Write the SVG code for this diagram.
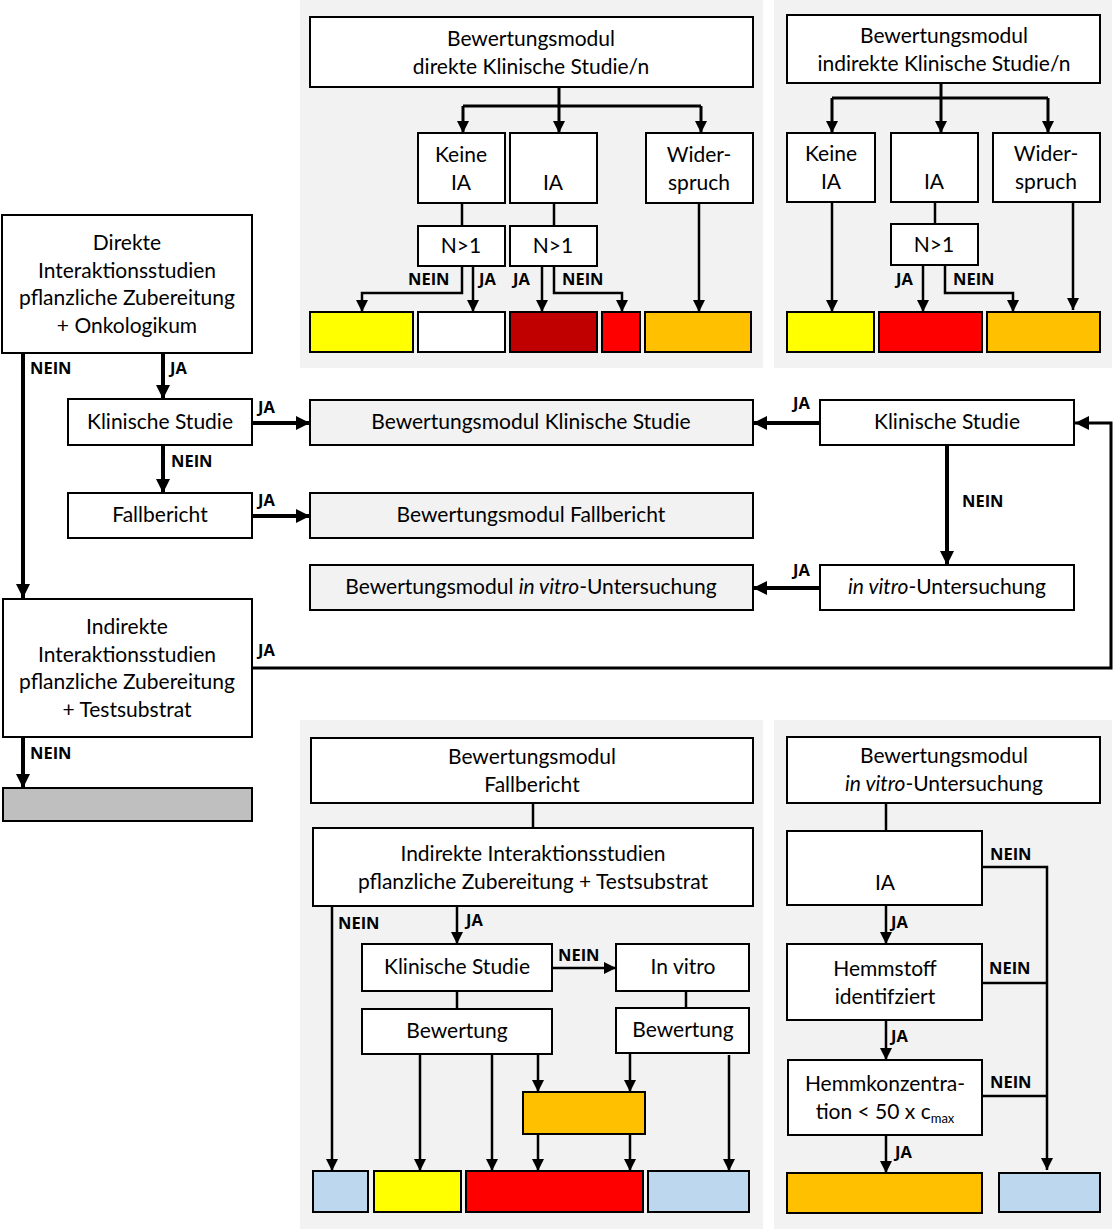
<svg xmlns="http://www.w3.org/2000/svg" width="1115" height="1229" viewBox="0 0 1115 1229">
<style>
.panel{fill:#f2f2f2}
.box{fill:#fff;stroke:#000;stroke-width:2}
.gbox{fill:#f2f2f2;stroke:#000;stroke-width:2}
.t{font-family:Lato,"Liberation Sans",sans-serif;font-size:21px;fill:#000;text-anchor:middle}
.l{font-family:"Open Sans","Liberation Sans",sans-serif;font-size:16.5px;font-weight:bold;fill:#000}
.c{fill:none;stroke:#000;stroke-width:2.5}
.ck{fill:none;stroke:#000;stroke-width:4}
.cm{fill:none;stroke:#000;stroke-width:3}
</style>
<defs>
<marker id="a" markerUnits="userSpaceOnUse" markerWidth="14" markerHeight="14" refX="12" refY="6" orient="auto"><path d="M0,0 L12,6 L0,12 z" fill="#000"/></marker>
<marker id="ab" markerUnits="userSpaceOnUse" markerWidth="16" markerHeight="16" refX="14" refY="7" orient="auto"><path d="M0,0 L14,7 L0,14 z" fill="#000"/></marker>
</defs>

<!-- panels -->
<rect class="panel" x="300" y="0" width="463" height="368"/>
<rect class="panel" x="774" y="0" width="338" height="368"/>
<rect class="panel" x="300" y="720" width="463" height="509"/>
<rect class="panel" x="774" y="720" width="338" height="509"/>

<!-- connectors -->
<g id="connectors">
 <!-- top middle panel -->
 <path class="cm" d="M559,87 V106 M463,106 H701"/>
 <path class="cm" d="M463,106 V133" marker-end="url(#a)"/>
 <path class="cm" d="M559,106 V133" marker-end="url(#a)"/>
 <path class="cm" d="M701,106 V133" marker-end="url(#a)"/>
 <path class="c" d="M462,203 V226"/>
 <path class="c" d="M554,203 V226"/>
 <path class="c" d="M462,266 V293 H362 V312" marker-end="url(#a)"/>
 <path class="c" d="M473,266 V312" marker-end="url(#a)"/>
 <path class="c" d="M542,266 V312" marker-end="url(#a)"/>
 <path class="c" d="M554,266 V293 H622 V312" marker-end="url(#a)"/>
 <path class="c" d="M699,203 V312" marker-end="url(#a)"/>
 <!-- top right panel -->
 <path class="cm" d="M941,83 V98 M832,98 H1048"/>
 <path class="cm" d="M832,98 V133" marker-end="url(#a)"/>
 <path class="cm" d="M941,98 V133" marker-end="url(#a)"/>
 <path class="cm" d="M1048,98 V133" marker-end="url(#a)"/>
 <path class="c" d="M935,202 V224"/>
 <path class="c" d="M832,202 V312" marker-end="url(#a)"/>
 <path class="c" d="M923,265 V312" marker-end="url(#a)"/>
 <path class="c" d="M945,265 V293 H1013 V312" marker-end="url(#a)"/>
 <path class="c" d="M1073,202 V310" marker-end="url(#a)"/>
 <!-- left flow -->
 <path class="ck" d="M23,353 V598" marker-end="url(#ab)"/>
 <path class="ck" d="M163,353 V399" marker-end="url(#ab)"/>
 <path class="ck" d="M163,445 V493" marker-end="url(#ab)"/>
 <path class="ck" d="M252,423 H310" marker-end="url(#ab)"/>
 <path class="ck" d="M252,516 H310" marker-end="url(#ab)"/>
 <path class="ck" d="M23,737 V788" marker-end="url(#ab)"/>
 <path class="cm" d="M252,668 H1111 V423 H1075" marker-end="url(#ab)"/>
 <!-- right flow -->
 <path class="ck" d="M820,423 H753" marker-end="url(#ab)"/>
 <path class="ck" d="M820,588 H753" marker-end="url(#ab)"/>
 <path class="ck" d="M947,445 V565" marker-end="url(#ab)"/>
 <!-- bottom middle panel -->
 <path class="c" d="M533,803 V828"/>
 <path class="c" d="M332,906 V1171" marker-end="url(#a)"/>
 <path class="c" d="M457,906 V944" marker-end="url(#a)"/>
 <path class="c" d="M552,968 H616" marker-end="url(#a)"/>
 <path class="c" d="M457,991 V1009"/>
 <path class="c" d="M686,991 V1008"/>
 <path class="c" d="M420,1054 V1171" marker-end="url(#a)"/>
 <path class="c" d="M492,1054 V1171" marker-end="url(#a)"/>
 <path class="c" d="M538,1054 V1092" marker-end="url(#a)"/>
 <path class="c" d="M630,1053 V1092" marker-end="url(#a)"/>
 <path class="c" d="M729,1055 V1171" marker-end="url(#a)"/>
 <path class="c" d="M538,1134 V1171" marker-end="url(#a)"/>
 <path class="c" d="M630,1134 V1171" marker-end="url(#a)"/>
 <!-- bottom right panel -->
 <path class="c" d="M886,803 V831"/>
 <path class="c" d="M886,905 V944" marker-end="url(#a)"/>
 <path class="c" d="M886,1020 V1060" marker-end="url(#a)"/>
 <path class="c" d="M886,1135 V1173" marker-end="url(#a)"/>
 <path class="c" d="M982,867 H1047 V1170" marker-end="url(#a)"/>
 <path class="c" d="M982,983 H1047"/>
 <path class="c" d="M982,1096 H1047"/>
</g>

<!-- connector labels -->
<g id="labels">
 <text class="l" x="408" y="285">NEIN</text>
 <text class="l" x="479" y="285">JA</text>
 <text class="l" x="513" y="285">JA</text>
 <text class="l" x="562" y="285">NEIN</text>
 <text class="l" x="896" y="285">JA</text>
 <text class="l" x="953" y="285">NEIN</text>
 <text class="l" x="30" y="374">NEIN</text>
 <text class="l" x="170" y="374">JA</text>
 <text class="l" x="171" y="467">NEIN</text>
 <text class="l" x="258" y="413">JA</text>
 <text class="l" x="258" y="506">JA</text>
 <text class="l" x="258" y="656">JA</text>
 <text class="l" x="30" y="759">NEIN</text>
 <text class="l" x="793" y="409">JA</text>
 <text class="l" x="793" y="576">JA</text>
 <text class="l" x="962" y="507">NEIN</text>
 <text class="l" x="338" y="929">NEIN</text>
 <text class="l" x="466" y="926">JA</text>
 <text class="l" x="558" y="961">NEIN</text>
 <text class="l" x="891" y="928">JA</text>
 <text class="l" x="891" y="1042">JA</text>
 <text class="l" x="895" y="1158">JA</text>
 <text class="l" x="990" y="860">NEIN</text>
 <text class="l" x="989" y="974">NEIN</text>
 <text class="l" x="990" y="1088">NEIN</text>
</g>

<!-- top middle panel nodes -->
<g id="n-direkt-modul"><rect class="box" x="310" y="17" width="443" height="70"/><text class="t" x="531" y="46">Bewertungsmodul</text><text class="t" x="531" y="74">direkte Klinische Studie/n</text></g>
<g id="n-tm-keine"><rect class="box" x="418" y="133" width="87" height="70"/><text class="t" x="461" y="162">Keine</text><text class="t" x="461" y="190">IA</text></g>
<g id="n-tm-ia"><rect class="box" x="510" y="133" width="87" height="70"/><text class="t" x="553" y="190">IA</text></g>
<g id="n-tm-wider"><rect class="box" x="646" y="133" width="107" height="70"/><text class="t" x="699" y="162">Wider-</text><text class="t" x="699" y="190">spruch</text></g>
<g id="n-tm-n1a"><rect class="box" x="418" y="226" width="87" height="40"/><text class="t" x="461" y="253">N&gt;1</text></g>
<g id="n-tm-n1b"><rect class="box" x="510" y="226" width="87" height="40"/><text class="t" x="553" y="253">N&gt;1</text></g>
<g id="n-tm-r1"><rect class="box" x="310" y="312" width="103" height="40" style="fill:#ffff00"/></g>
<g id="n-tm-r2"><rect class="box" x="418" y="312" width="87" height="40"/></g>
<g id="n-tm-r3"><rect class="box" x="510" y="312" width="87" height="40" style="fill:#c00000"/></g>
<g id="n-tm-r4"><rect class="box" x="602" y="312" width="38" height="40" style="fill:#ff0000"/></g>
<g id="n-tm-r5"><rect class="box" x="645" y="312" width="106" height="40" style="fill:#ffc000"/></g>

<!-- top right panel nodes -->
<g id="n-indirekt-modul"><rect class="box" x="787" y="15" width="313" height="68"/><text class="t" x="944" y="43">Bewertungsmodul</text><text class="t" x="944" y="71">indirekte Klinische Studie/n</text></g>
<g id="n-tr-keine"><rect class="box" x="787" y="133" width="88" height="69"/><text class="t" x="831" y="161">Keine</text><text class="t" x="831" y="189">IA</text></g>
<g id="n-tr-ia"><rect class="box" x="891" y="133" width="87" height="69"/><text class="t" x="934" y="189">IA</text></g>
<g id="n-tr-wider"><rect class="box" x="993" y="133" width="107" height="69"/><text class="t" x="1046" y="161">Wider-</text><text class="t" x="1046" y="189">spruch</text></g>
<g id="n-tr-n1"><rect class="box" x="891" y="224" width="87" height="41"/><text class="t" x="934" y="252">N&gt;1</text></g>
<g id="n-tr-r1"><rect class="box" x="787" y="312" width="87" height="40" style="fill:#ffff00"/></g>
<g id="n-tr-r2"><rect class="box" x="879" y="312" width="103" height="40" style="fill:#ff0000"/></g>
<g id="n-tr-r3"><rect class="box" x="987" y="312" width="113" height="40" style="fill:#ffc000"/></g>

<!-- left flow nodes -->
<g id="n-direkte"><rect class="box" x="2" y="215" width="250" height="138"/><text class="t" x="127" y="250">Direkte</text><text class="t" x="127" y="278">Interaktionsstudien</text><text class="t" x="127" y="305">pflanzliche Zubereitung</text><text class="t" x="127" y="333">+ Onkologikum</text></g>
<g id="n-klin-l"><rect class="box" x="68" y="399" width="184" height="46"/><text class="t" x="160" y="429">Klinische Studie</text></g>
<g id="n-fall-l"><rect class="box" x="68" y="493" width="184" height="45"/><text class="t" x="160" y="522">Fallbericht</text></g>
<g id="n-indirekte"><rect class="box" x="3" y="599" width="249" height="138"/><text class="t" x="127" y="634">Indirekte</text><text class="t" x="127" y="662">Interaktionsstudien</text><text class="t" x="127" y="689">pflanzliche Zubereitung</text><text class="t" x="127" y="717">+ Testsubstrat</text></g>
<g id="n-grey"><rect class="box" x="3" y="788" width="249" height="33" style="fill:#bfbfbf"/></g>

<!-- middle modules -->
<g id="n-bm-klin"><rect class="gbox" x="310" y="400" width="443" height="45"/><text class="t" x="531" y="429">Bewertungsmodul Klinische Studie</text></g>
<g id="n-bm-fall"><rect class="gbox" x="310" y="493" width="443" height="45"/><text class="t" x="531" y="522">Bewertungsmodul Fallbericht</text></g>
<g id="n-bm-vitro"><rect class="gbox" x="310" y="565" width="443" height="45"/><text class="t" x="531" y="594">Bewertungsmodul <tspan font-style="italic">in vitro</tspan>-Untersuchung</text></g>
<g id="n-klin-r"><rect class="box" x="820" y="400" width="254" height="45"/><text class="t" x="947" y="429">Klinische Studie</text></g>
<g id="n-vitro-r"><rect class="box" x="820" y="565" width="254" height="45"/><text class="t" x="947" y="594"><tspan font-style="italic">in vitro</tspan>-Untersuchung</text></g>

<!-- bottom middle panel nodes -->
<g id="n-bm-fall-head"><rect class="box" x="311" y="738" width="442" height="65"/><text class="t" x="532" y="764">Bewertungsmodul</text><text class="t" x="532" y="792">Fallbericht</text></g>
<g id="n-bm-indirekt"><rect class="box" x="313" y="828" width="440" height="78"/><text class="t" x="533" y="861">Indirekte Interaktionsstudien</text><text class="t" x="533" y="889">pflanzliche Zubereitung + Testsubstrat</text></g>
<g id="n-bm-klin2"><rect class="box" x="362" y="944" width="190" height="47"/><text class="t" x="457" y="974">Klinische Studie</text></g>
<g id="n-bm-invitro"><rect class="box" x="616" y="944" width="133" height="47"/><text class="t" x="683" y="974">In vitro</text></g>
<g id="n-bm-bew1"><rect class="box" x="362" y="1009" width="190" height="45"/><text class="t" x="457" y="1038">Bewertung</text></g>
<g id="n-bm-bew2"><rect class="box" x="616" y="1008" width="133" height="45"/><text class="t" x="683" y="1037">Bewertung</text></g>
<g id="n-bm-orange"><rect class="box" x="523" y="1092" width="122" height="42" style="fill:#ffc000"/></g>
<g id="n-bm-r1"><rect class="box" x="313" y="1171" width="55" height="41" style="fill:#bdd7ee"/></g>
<g id="n-bm-r2"><rect class="box" x="374" y="1171" width="87" height="41" style="fill:#ffff00"/></g>
<g id="n-bm-r3"><rect class="box" x="466" y="1171" width="177" height="41" style="fill:#ff0000"/></g>
<g id="n-bm-r4"><rect class="box" x="648" y="1171" width="101" height="41" style="fill:#bdd7ee"/></g>

<!-- bottom right panel nodes -->
<g id="n-vitro-head"><rect class="box" x="787" y="737" width="313" height="66"/><text class="t" x="944" y="763">Bewertungsmodul</text><text class="t" x="944" y="791"><tspan font-style="italic">in vitro</tspan>-Untersuchung</text></g>
<g id="n-v-ia"><rect class="box" x="787" y="831" width="195" height="74"/><text class="t" x="885" y="890">IA</text></g>
<g id="n-v-hemm"><rect class="box" x="787" y="944" width="195" height="76"/><text class="t" x="885" y="976">Hemmstoff</text><text class="t" x="885" y="1004">identifziert</text></g>
<g id="n-v-konz"><rect class="box" x="788" y="1060" width="194" height="75"/><text class="t" x="885" y="1091">Hemmkonzentra-</text><text class="t" x="885" y="1119">tion &lt; 50 x c<tspan font-size="13" dy="4">max</tspan></text></g>
<g id="n-v-orange"><rect class="box" x="787" y="1173" width="195" height="40" style="fill:#ffc000"/></g>
<g id="n-v-blue"><rect class="box" x="999" y="1173" width="101" height="39" style="fill:#bdd7ee"/></g>
</svg>
